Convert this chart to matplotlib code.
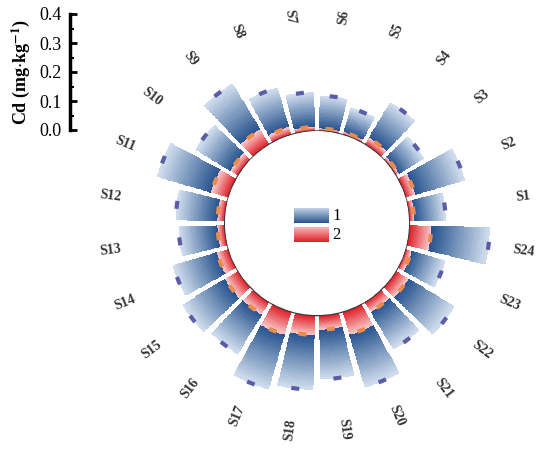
import numpy as np
import matplotlib
matplotlib.use("Agg")
from matplotlib import pyplot as plt
from matplotlib.colors import LinearSegmentedColormap

sites = [f"S{i}" for i in range(1, 25)]
cd_1 = [0.127, 0.213, 0.114, 0.170, 0.097, 0.123, 0.135, 0.170, 0.245, 0.172, 0.256, 0.170,
        0.160, 0.200, 0.224, 0.209, 0.279, 0.257, 0.221, 0.271, 0.191, 0.235, 0.143, 0.279]
cd_2 = [0.018, 0.035, 0.012, 0.027, 0.010, 0.010, 0.015, 0.027, 0.060, 0.031, 0.062, 0.026,
        0.026, 0.042, 0.053, 0.050, 0.082, 0.068, 0.050, 0.082, 0.040, 0.050, 0.022, 0.077]
series_names = ["1", "2"]
y_ticks = [0.0, 0.1, 0.2, 0.3, 0.4]

plt.rcParams["font.family"] = ["Liberation Serif", "DejaVu Serif"]
plt.rcParams["mathtext.fontset"] = "stix"

blue_cmap = LinearSegmentedColormap.from_list("blue_grad", ["#28548f", "#cddbec"])
red_cmap = LinearSegmentedColormap.from_list("red_grad", ["#de2027", "#f9c0c2"])

W, H = 550, 457
fig = plt.figure(figsize=(W / 100, H / 100), dpi=100)

#####* polar axes, scale: 290 px per mg/kg, inner hole 92 px
PX = 290.0
R0 = 92 / PX
RMAX = 0.45
cx, cy = 317, 223.3
rpx = (RMAX + R0) * PX
ax = fig.add_axes([(cx - rpx) / W, (H - cy - rpx) / H, 2 * rpx / W, 2 * rpx / H],
                  projection="polar")
ax.set_rorigin(-R0)
ax.set_ylim(0, RMAX)
ax.set_axis_off()

theta = np.deg2rad(7.5 + 15 * np.arange(len(sites)))
width = np.deg2rad(12.5)


def gradient_bar(t, v0, v, cmap, z):
    th = np.linspace(t - width / 2, t + width / 2, 9)
    r = np.linspace(v0, v, 26)
    c = np.tile(np.linspace(0, 1, 25)[:, None], (1, 8))
    ax.pcolormesh(th, r, c, cmap=cmap, vmin=0, vmax=1, shading="flat",
                  linewidth=0, antialiased=False, zorder=z)


def cap(t, v, color):
    half = 4.0 / ((v + R0) * PX)
    th = np.linspace(t - half, t + half, 5)
    ax.plot(th, np.full(5, v), color=color, lw=3, solid_capstyle="butt", zorder=5)


for t, v1, v2 in zip(theta, cd_1, cd_2):
    gradient_bar(t, v2, v1, blue_cmap, 2)
    gradient_bar(t, 0.002, v2, red_cmap, 3)
    cap(t, v1, "#5a5ca8")
    cap(t, v2, "#ea8c4c")

circ = np.linspace(0, 2 * np.pi, 300)
ax.plot(circ, np.zeros_like(circ), color="#3c3c3c", lw=1.5, zorder=6)

for t, s in zip(theta, sites):
    rot = np.rad2deg(t)
    if 90 < rot < 270:
        rot -= 180
    ax.text(t, 0.40, s, rotation=rot, rotation_mode="anchor", ha="center", va="center",
            fontsize=10, fontweight="bold", color="#333333")

#####* legend in the middle
grad = np.linspace(1, 0, 50)[:, None]
for k, cmap in enumerate([blue_cmap, red_cmap]):
    top = 207.7 + k * 19
    lax = fig.add_axes([294 / W, 1 - (top + 15.6) / H, 34.3 / W, 15.6 / H])
    lax.imshow(grad, cmap=cmap, aspect="auto", vmin=0, vmax=1)
    lax.set_axis_off()
    fig.text(332 / W, 1 - (top + 8) / H, series_names[k], fontsize=12, va="center", ha="left")

#####* radial scale on the left
sax = fig.add_axes([70 / W, (H - 130) / H, 0.002, 116 / H])
sax.set_ylim(0, 0.4)
sax.set_yticks(y_ticks)
sax.set_yticklabels([f"{v:.1f}" for v in y_ticks])
sax.set_yticks(np.array(y_ticks[:-1]) + 0.05, minor=True)
sax.set_xticks([])
for side in ["top", "right", "bottom"]:
    sax.spines[side].set_visible(False)
sax.spines["left"].set_linewidth(2.5)
sax.patch.set_alpha(0)
sax.tick_params(axis="y", which="major", direction="in", length=5, width=2, labelsize=13, pad=6)
sax.tick_params(axis="y", which="minor", direction="in", length=3, width=1.5)
sax.set_ylabel(r"Cd (mg$\cdot$kg$^{\mathbf{-1}}$)", fontsize=13, fontweight="bold", labelpad=5)

fig.savefig("out.png", dpi=100)
